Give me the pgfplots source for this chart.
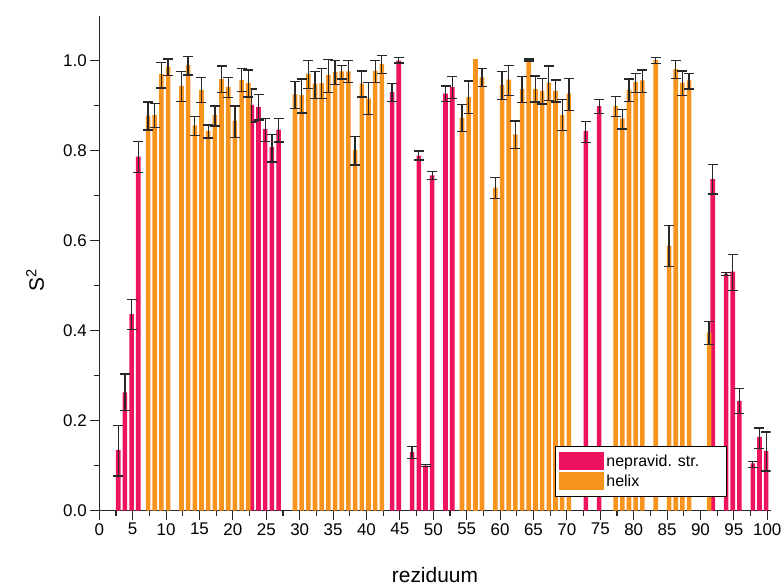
\documentclass[border=0pt]{standalone}
\usepackage{pgfplots}
\pgfplotsset{compat=1.18}
\usepackage{fontspec}
\setmainfont{Liberation Sans}
\definecolor{mag}{RGB}{237,19,96}
\definecolor{orn}{RGB}{247,148,30}
\definecolor{ebar}{RGB}{40,40,40}

\pgfplotstableread{
x y ep em
3 0.135 0.054 0.058
4 0.263 0.041 0.041
5 0.437 0.032 0.035
6 0.787 0.033 0.035
23 0.902 0.035 0.038
24 0.897 0.028 0.029
25 0.848 0.023 0.028
26 0.808 0.028 0.033
27 0.847 0.025 0.028
44 0.930 0.020 0.020
45 1.000 0.007 0.005
47 0.130 0.012 0.014
48 0.789 0.010 0.010
49 0.100 0.002 0.002
50 0.745 0.008 0.009
52 0.927 0.017 0.017
53 0.941 0.024 0.025
73 0.844 0.021 0.026
75 0.899 0.014 0.017
92 0.737 0.033 0.033
94 0.526 0.004 0.004
95 0.531 0.038 0.041
96 0.244 0.027 0.028
98 0.105 0.004 0.009
99 0.164 0.020 0.025
100 0.133 0.042 0.045
}\nepravid

\pgfplotstableread{
x y ep em
7 0.878 0.030 0.032
8 0.879 0.026 0.028
9 0.970 0.026 0.031
10 0.987 0.017 0.020
12 0.944 0.032 0.035
13 0.990 0.019 0.022
14 0.856 0.020 0.022
15 0.935 0.027 0.028
16 0.844 0.013 0.016
17 0.879 0.020 0.024
18 0.959 0.029 0.030
19 0.942 0.020 0.024
20 0.866 0.033 0.036
21 0.957 0.025 0.026
22 0.950 0.029 0.031
29 0.925 0.028 0.032
30 0.924 0.035 0.040
31 0.971 0.030 0.033
32 0.949 0.027 0.033
33 0.950 0.032 0.034
34 0.968 0.035 0.038
35 0.975 0.025 0.028
36 0.976 0.013 0.017
37 0.976 0.025 0.025
38 0.802 0.030 0.034
39 0.949 0.028 0.030
40 0.916 0.035 0.036
41 0.978 0.022 0.027
42 0.993 0.018 0.021
54 0.873 0.029 0.031
55 0.919 0.036 0.037
57 0.963 0.019 0.021
59 0.718 0.023 0.025
60 0.946 0.030 0.033
61 0.958 0.032 0.035
62 0.836 0.030 0.031
63 0.937 0.028 0.030
64 1.001 0.003 0.002
65 0.937 0.029 0.029
66 0.933 0.028 0.029
67 0.951 0.037 0.039
68 0.933 0.024 0.025
69 0.879 0.034 0.034
70 0.927 0.034 0.038
77 0.899 0.021 0.023
78 0.872 0.020 0.024
79 0.935 0.024 0.025
80 0.953 0.018 0.023
81 0.956 0.023 0.027
83 1.001 0.006 0.008
85 0.589 0.044 0.047
86 0.981 0.019 0.021
87 0.951 0.026 0.029
88 0.956 0.015 0.019
91 0.396 0.024 0.026
}\helix

\pgfplotstableread{
x y
56 1.003
}\helixnoerr

\begin{document}
\begin{tikzpicture}
\begin{axis}[
  name=ax,
  scale only axis,
  width=671.3bp, height=495bp,
  xmin=0, xmax=100.5, ymin=0, ymax=1.1,
  axis x line*=bottom, axis y line*=left,
  axis line style={line width=1.2bp, color=black!85, -},
  xtick={0,5,...,100}, minor x tick num=1,
  ytick={0,0.2,0.4,0.6,0.8,1.0}, minor y tick num=1,
  tick align=outside,
  major tick length=9bp, minor tick length=5bp,
  tick style={line width=1.1bp, color=black!85},
  yticklabel style={/pgf/number format/fixed, /pgf/number format/fixed zerofill, /pgf/number format/precision=1},
  /pgf/number format/assume math mode=true,
  ticklabel style={font=\fontsize{17}{19}\selectfont},
  xlabel={reziduum}, ylabel={S\textsuperscript{2}},
  label style={font=\fontsize{21}{23}\selectfont},
  xlabel style={at={(axis description cs:0.5,-0.1295)}, anchor=center},
  ylabel style={at={(axis description cs:-0.0955,0.466)}, anchor=center},
  ybar, bar width=4.6bp,
  legend style={at={(rel axis cs:0.935,0.028)}, anchor=south east, draw=black, line width=1bp, fill=white, font=\fontsize{16}{18}\selectfont, row sep=2bp, inner xsep=4bp, inner ysep=6bp},
  legend cell align=left,
]
\addplot[ybar, bar shift=-1.1bp, fill=mag, draw=none,
  legend image code/.code={\fill[mag] (0bp,-9bp) rectangle (45bp,9bp);},
  error bars/.cd, y dir=both, y explicit,
  error bar style={ebar, line width=1.3bp},
  error mark options={ebar, line width=1.3bp, mark size=5bp, rotate=90}]
  table[x=x, y=y, y error plus=ep, y error minus=em] {\nepravid};
\addlegendentry{\makebox[114bp][l]{nepravid. str.}}
\addplot[ybar, bar shift=2bp, fill=orn, draw=none,
  legend image code/.code={\fill[orn] (0bp,-9bp) rectangle (45bp,9bp);},
  error bars/.cd, y dir=both, y explicit,
  error bar style={ebar, line width=1.3bp},
  error mark options={ebar, line width=1.3bp, mark size=5bp, rotate=90}]
  table[x=x, y=y, y error plus=ep, y error minus=em] {\helix};
\addlegendentry{helix}
\addplot[ybar, bar shift=2bp, fill=orn, draw=none, forget plot] table[x=x, y=y] {\helixnoerr};
\end{axis}
\pgfresetboundingbox
\path ([xshift=-99.3bp,yshift=-75.3bp]ax.south west) rectangle ([xshift=13.4bp,yshift=15.7bp]ax.north east);
\end{tikzpicture}
\end{document}
